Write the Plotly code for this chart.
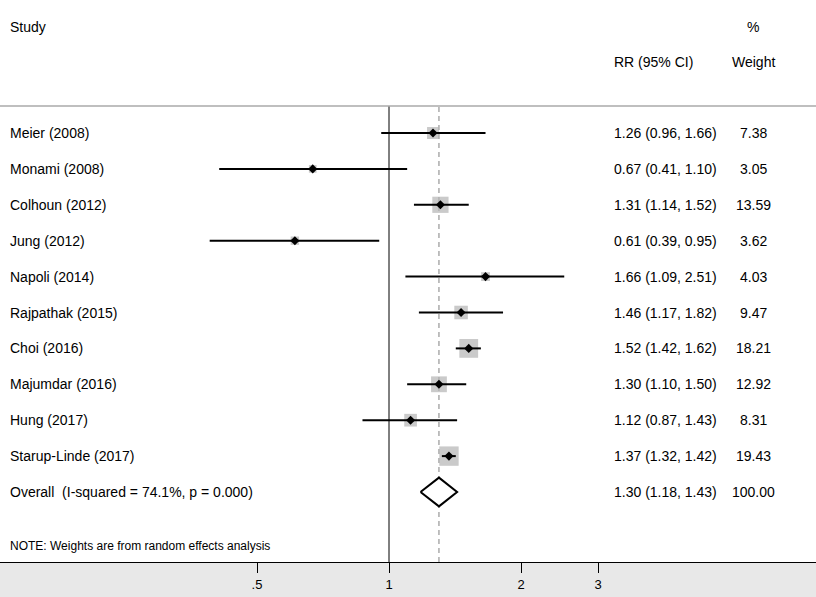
import math
import plotly.graph_objects as go

studies = ["Meier (2008)", "Monami (2008)", "Colhoun (2012)", "Jung (2012)", "Napoli (2014)",
           "Rajpathak (2015)", "Choi (2016)", "Majumdar (2016)", "Hung (2017)", "Starup-Linde (2017)"]
rr = [1.26, 0.67, 1.31, 0.61, 1.66, 1.46, 1.52, 1.30, 1.12, 1.37]
lo = [0.96, 0.41, 1.14, 0.39, 1.09, 1.17, 1.42, 1.10, 0.87, 1.32]
hi = [1.66, 1.10, 1.52, 0.95, 2.51, 1.82, 1.62, 1.50, 1.43, 1.42]
weights = [7.38, 3.05, 13.59, 3.62, 4.03, 9.47, 18.21, 12.92, 8.31, 19.43]
overall_label = "Overall  (I-squared = 74.1%, p = 0.000)"
overall = (1.30, 1.18, 1.43)
overall_weight = 100.00
tick_vals = [0.5, 1, 2, 3]
tick_text = [".5", "1", "2", "3"]

W, H = 816, 597
TOP, BOT = 106, 562
PH = BOT - TOP
FONT = "Liberation Sans, Arial, sans-serif"

n = len(studies)
rows = list(range(n))
ov_row = n

fig = go.Figure()

# weight squares
fig.add_trace(go.Scatter(
    x=rr, y=rows, mode="markers",
    marker=dict(symbol="square", size=[math.sqrt(w) * 4.4 for w in weights],
                color="#b4b4b4", line=dict(width=0)),
    hoverinfo="skip", showlegend=False))

# CI lines
cx, cy = [], []
for i in rows:
    cx += [lo[i], hi[i], None]
    cy += [i, i, None]
fig.add_trace(go.Scatter(x=cx, y=cy, mode="lines", line=dict(color="black", width=2),
                         hoverinfo="skip", showlegend=False))

# point estimates
fig.add_trace(go.Scatter(x=rr, y=rows, mode="markers",
                         marker=dict(symbol="diamond", size=7, color="black"),
                         hoverinfo="skip", showlegend=False))

# overall diamond
dh = 0.40
fig.add_trace(go.Scatter(
    x=[overall[1], overall[0], overall[2], overall[0], overall[1]],
    y=[ov_row, ov_row - dh, ov_row, ov_row + dh, ov_row],
    mode="lines", line=dict(color="black", width=2), fill="toself", fillcolor="white",
    hoverinfo="skip", showlegend=False))

# reference lines
fig.add_shape(type="line", xref="x", yref="paper", x0=1, x1=1, y0=0, y1=1,
              line=dict(color="black", width=1), layer="below")
fig.add_shape(type="line", xref="x", yref="paper", x0=overall[0], x1=overall[0], y0=0, y1=1,
              line=dict(color="#808080", width=1, dash="5px,4px"), layer="below")
fig.add_shape(type="line", xref="paper", yref="paper", x0=0, x1=1, y0=1, y1=1,
              line=dict(color="#aaaaaa", width=1.5))
fig.add_shape(type="rect", xref="paper", yref="paper", x0=0, x1=1, y0=-(H - BOT) / PH, y1=0,
              fillcolor="#e8e8e8", line=dict(width=0), layer="below")

def px_x(p):
    return p / W

def px_y(p):
    return (BOT - p) / PH

anns = []
def txt(text, x, y, yref="paper", size=14, anchor="left"):
    anns.append(dict(text=text, x=x, y=y, xref="paper", yref=yref, showarrow=False,
                     xanchor=anchor, yanchor="middle", font=dict(size=size, color="black", family=FONT)))

txt("Study", px_x(8), px_y(27))
txt("%", px_x(753), px_y(27), anchor="center")
txt("RR (95% CI)", px_x(612), px_y(62))
txt("Weight", px_x(753), px_y(62), anchor="center")

for i in rows:
    txt(studies[i], px_x(8), i, yref="y")
    txt(f"{rr[i]:.2f} ({lo[i]:.2f}, {hi[i]:.2f})", px_x(612), i, yref="y")
    txt(f"{weights[i]:.2f}", px_x(753), i, yref="y", anchor="center")

txt(overall_label, px_x(8), ov_row, yref="y")
txt(f"{overall[0]:.2f} ({overall[1]:.2f}, {overall[2]:.2f})", px_x(612), ov_row, yref="y")
txt(f"{overall_weight:.2f}", px_x(753), ov_row, yref="y", anchor="center")
txt("NOTE: Weights are from random effects analysis", px_x(8), px_y(546), size=12)

# axis ranges: x pixel = 389 + 132*log2(v)
xr0 = (0 - 389) / 132 * math.log10(2)
xr1 = (W - 389) / 132 * math.log10(2)
sp = (492 - 133) / n
yr_top = -(133 - TOP) / sp
yr_bot = (BOT - 133) / sp

fig.update_layout(
    width=W, height=H,
    margin=dict(l=0, r=0, t=TOP, b=H - BOT, pad=0),
    paper_bgcolor="white", plot_bgcolor="white",
    annotations=anns,
    font=dict(family=FONT, color="black"),
    xaxis=dict(type="log", range=[xr0, xr1], tickvals=tick_vals, ticktext=tick_text,
               showgrid=False, zeroline=False, showline=True, linecolor="black", linewidth=1,
               ticks="outside", ticklen=10, tickcolor="black", tickwidth=1,
               tickfont=dict(size=13, color="black", family=FONT)),
    yaxis=dict(range=[yr_bot, yr_top], showgrid=False, zeroline=False, showticklabels=False,
               showline=False),
)

fig.write_html("out.html", config={"displayModeBar": False},
               post_script="document.body.style.margin='0';document.body.style.overflow='hidden';")
